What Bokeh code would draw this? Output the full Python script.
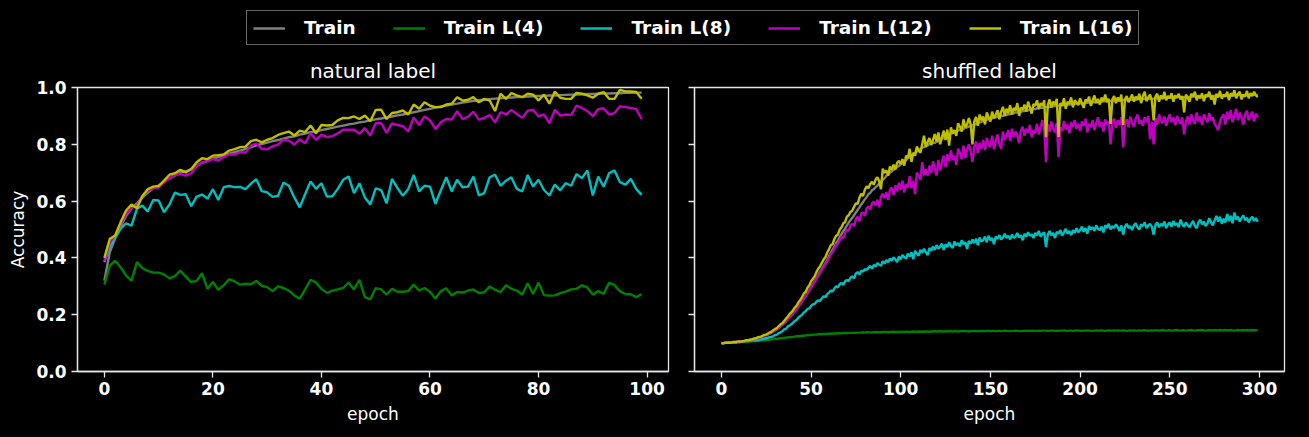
from bokeh.plotting import figure
from bokeh.models import Range1d, FixedTicker, Legend, LegendItem, CustomJSTickFormatter, PrintfTickFormatter
from bokeh.layouts import column, row
from bokeh.embed import file_html
from bokeh.resources import INLINE

FONT = "DejaVu Sans"
FG = "#e6e6e6"

series_names = ["Train", "Train L(4)", "Train L(8)", "Train L(12)", "Train L(16)"]
series_colors = ["#808080", "#008000", "#00bfbf", "#bf00bf", "#bfbf00"]

panel_titles = ["natural label", "shuffled label"]
y_label = "Accuracy"
x_label = "epoch"
y_ticks = [0.0, 0.2, 0.4, 0.6, 0.8, 1.0]
nat_x_ticks = [0, 20, 40, 60, 80, 100]
shuf_x_ticks = [0, 50, 100, 150, 200, 250, 300]

nat_epochs = list(range(100))
shuf_epochs = list(range(300))

# ---------------- natural label (100 epochs) ----------------
nat_train = [
    0.320, 0.420, 0.470, 0.510, 0.548, 0.575, 0.592, 0.612, 0.630, 0.645,
    0.655, 0.667, 0.680, 0.690, 0.700, 0.705, 0.712, 0.725, 0.735, 0.742,
    0.750, 0.755, 0.760, 0.767, 0.772, 0.778, 0.784, 0.790, 0.796, 0.801,
    0.806, 0.811, 0.815, 0.820, 0.825, 0.828, 0.834, 0.838, 0.843, 0.846,
    0.850, 0.854, 0.858, 0.862, 0.866, 0.870, 0.873, 0.877, 0.880, 0.884,
    0.888, 0.891, 0.895, 0.898, 0.902, 0.905, 0.909, 0.913, 0.917, 0.921,
    0.925, 0.929, 0.933, 0.936, 0.940, 0.943, 0.947, 0.950, 0.953, 0.955,
    0.957, 0.959, 0.961, 0.962, 0.964, 0.965, 0.966, 0.967, 0.968, 0.969,
    0.970, 0.971, 0.972, 0.972, 0.973, 0.974, 0.975, 0.975, 0.976, 0.977,
    0.977, 0.978, 0.979, 0.979, 0.980, 0.980, 0.981, 0.981, 0.982, 0.982,
]
nat_l4 = [
    0.306, 0.373, 0.390, 0.367, 0.338, 0.320, 0.385, 0.364, 0.354, 0.348,
    0.348, 0.342, 0.328, 0.336, 0.355, 0.334, 0.315, 0.319, 0.346, 0.291,
    0.315, 0.288, 0.304, 0.325, 0.317, 0.306, 0.309, 0.307, 0.319, 0.302,
    0.297, 0.283, 0.300, 0.294, 0.285, 0.268, 0.256, 0.289, 0.323, 0.313,
    0.291, 0.277, 0.285, 0.289, 0.294, 0.313, 0.289, 0.323, 0.262, 0.254,
    0.293, 0.289, 0.271, 0.291, 0.281, 0.281, 0.283, 0.306, 0.285, 0.294,
    0.281, 0.257, 0.283, 0.293, 0.268, 0.280, 0.278, 0.285, 0.289, 0.276,
    0.279, 0.299, 0.288, 0.279, 0.304, 0.291, 0.285, 0.270, 0.311, 0.273,
    0.313, 0.269, 0.267, 0.268, 0.276, 0.281, 0.289, 0.291, 0.304, 0.296,
    0.271, 0.283, 0.273, 0.313, 0.304, 0.283, 0.273, 0.272, 0.262, 0.272,
]
nat_l8 = [
    0.385, 0.440, 0.470, 0.503, 0.522, 0.514, 0.573, 0.584, 0.563, 0.604,
    0.602, 0.561, 0.588, 0.630, 0.622, 0.624, 0.582, 0.616, 0.623, 0.609,
    0.642, 0.604, 0.649, 0.653, 0.649, 0.650, 0.642, 0.661, 0.677, 0.635,
    0.631, 0.615, 0.619, 0.665, 0.654, 0.613, 0.578, 0.625, 0.669, 0.643,
    0.663, 0.616, 0.617, 0.643, 0.675, 0.687, 0.628, 0.663, 0.613, 0.588,
    0.645, 0.639, 0.592, 0.678, 0.646, 0.619, 0.643, 0.692, 0.634, 0.654,
    0.651, 0.590, 0.638, 0.684, 0.634, 0.675, 0.649, 0.651, 0.686, 0.620,
    0.628, 0.684, 0.693, 0.654, 0.672, 0.684, 0.643, 0.634, 0.692, 0.651,
    0.675, 0.639, 0.620, 0.658, 0.638, 0.663, 0.654, 0.695, 0.681, 0.708,
    0.620, 0.686, 0.651, 0.698, 0.708, 0.667, 0.658, 0.678, 0.643, 0.622,
]
nat_l12 = [
    0.390, 0.455, 0.480, 0.520, 0.555, 0.577, 0.583, 0.618, 0.636, 0.646,
    0.648, 0.666, 0.681, 0.692, 0.696, 0.690, 0.698, 0.723, 0.737, 0.740,
    0.748, 0.743, 0.755, 0.764, 0.764, 0.772, 0.771, 0.795, 0.802, 0.784,
    0.782, 0.793, 0.799, 0.816, 0.813, 0.799, 0.818, 0.804, 0.839, 0.816,
    0.834, 0.825, 0.829, 0.839, 0.851, 0.851, 0.851, 0.837, 0.857, 0.831,
    0.874, 0.875, 0.840, 0.874, 0.868, 0.864, 0.845, 0.895, 0.868, 0.898,
    0.884, 0.854, 0.878, 0.889, 0.887, 0.917, 0.889, 0.897, 0.915, 0.887,
    0.893, 0.903, 0.878, 0.913, 0.905, 0.921, 0.907, 0.893, 0.918, 0.922,
    0.898, 0.905, 0.874, 0.921, 0.901, 0.905, 0.903, 0.936, 0.928, 0.917,
    0.899, 0.924, 0.927, 0.905, 0.910, 0.934, 0.931, 0.928, 0.924, 0.889,
]
nat_l16 = [
    0.400, 0.467, 0.479, 0.526, 0.567, 0.588, 0.575, 0.618, 0.642, 0.651,
    0.653, 0.672, 0.693, 0.698, 0.710, 0.701, 0.713, 0.737, 0.751, 0.748,
    0.760, 0.762, 0.764, 0.778, 0.783, 0.790, 0.792, 0.811, 0.816, 0.807,
    0.816, 0.822, 0.833, 0.839, 0.845, 0.831, 0.848, 0.843, 0.866, 0.839,
    0.868, 0.866, 0.868, 0.884, 0.893, 0.892, 0.898, 0.889, 0.901, 0.881,
    0.921, 0.922, 0.889, 0.910, 0.913, 0.919, 0.905, 0.940, 0.925, 0.948,
    0.936, 0.931, 0.931, 0.940, 0.943, 0.966, 0.954, 0.957, 0.966, 0.948,
    0.960, 0.954, 0.917, 0.978, 0.960, 0.980, 0.972, 0.966, 0.978, 0.975,
    0.954, 0.975, 0.943, 0.986, 0.964, 0.960, 0.960, 0.981, 0.978, 0.972,
    0.964, 0.978, 0.984, 0.960, 0.960, 0.992, 0.986, 0.986, 0.984, 0.960,
]

# ---------------- shuffled label (300 epochs) ----------------
shuf_train = [
    0.100, 0.100, 0.101, 0.101, 0.102, 0.102, 0.103, 0.104, 0.104, 0.105, 0.106, 0.106, 0.107, 0.108, 0.109, 0.110, 0.111, 0.112, 0.114, 0.115,
    0.117, 0.119, 0.121, 0.123, 0.126, 0.128, 0.131, 0.134, 0.137, 0.141, 0.145, 0.149, 0.154, 0.159, 0.164, 0.170, 0.176, 0.183, 0.190, 0.197,
    0.205, 0.213, 0.221, 0.229, 0.238, 0.247, 0.257, 0.266, 0.276, 0.286, 0.297, 0.308, 0.318, 0.329, 0.340, 0.351, 0.360, 0.370, 0.381, 0.392,
    0.406, 0.418, 0.428, 0.440, 0.452, 0.461, 0.473, 0.484, 0.495, 0.503, 0.514, 0.524, 0.533, 0.541, 0.550, 0.560, 0.569, 0.578, 0.588, 0.597,
    0.606, 0.614, 0.624, 0.629, 0.638, 0.642, 0.649, 0.654, 0.662, 0.667, 0.675, 0.680, 0.689, 0.693, 0.700, 0.704, 0.711, 0.713, 0.721, 0.723,
    0.730, 0.733, 0.740, 0.744, 0.751, 0.754, 0.761, 0.764, 0.771, 0.774, 0.780, 0.783, 0.789, 0.790, 0.795, 0.796, 0.801, 0.801, 0.805, 0.805,
    0.809, 0.811, 0.816, 0.819, 0.825, 0.827, 0.832, 0.833, 0.839, 0.839, 0.844, 0.845, 0.849, 0.850, 0.854, 0.854, 0.859, 0.859, 0.863, 0.863,
    0.867, 0.868, 0.872, 0.873, 0.877, 0.878, 0.883, 0.883, 0.888, 0.888, 0.892, 0.891, 0.895, 0.894, 0.898, 0.897, 0.901, 0.900, 0.904, 0.903,
    0.906, 0.906, 0.909, 0.909, 0.912, 0.912, 0.915, 0.914, 0.918, 0.917, 0.920, 0.919, 0.922, 0.921, 0.924, 0.924, 0.927, 0.926, 0.929, 0.928,
    0.930, 0.931, 0.931, 0.932, 0.933, 0.934, 0.935, 0.935, 0.936, 0.937, 0.938, 0.938, 0.939, 0.940, 0.940, 0.941, 0.942, 0.942, 0.943, 0.943,
    0.944, 0.944, 0.945, 0.946, 0.946, 0.947, 0.947, 0.948, 0.948, 0.949, 0.949, 0.950, 0.950, 0.951, 0.951, 0.952, 0.952, 0.953, 0.953, 0.954,
    0.954, 0.954, 0.955, 0.955, 0.956, 0.956, 0.956, 0.957, 0.957, 0.957, 0.958, 0.958, 0.958, 0.959, 0.959, 0.959, 0.960, 0.960, 0.960, 0.961,
    0.961, 0.961, 0.962, 0.962, 0.962, 0.963, 0.963, 0.963, 0.964, 0.964, 0.964, 0.965, 0.965, 0.965, 0.965, 0.966, 0.966, 0.966, 0.966, 0.967,
    0.967, 0.967, 0.967, 0.968, 0.968, 0.968, 0.968, 0.968, 0.969, 0.969, 0.969, 0.969, 0.970, 0.970, 0.970, 0.970, 0.970, 0.971, 0.971, 0.971,
    0.971, 0.971, 0.971, 0.972, 0.972, 0.972, 0.972, 0.972, 0.973, 0.973, 0.973, 0.973, 0.973, 0.973, 0.974, 0.974, 0.974, 0.974, 0.974, 0.974,
]
shuf_l4 = [
    0.100, 0.100, 0.100, 0.101, 0.101, 0.101, 0.102, 0.102, 0.102, 0.103, 0.103, 0.104, 0.104, 0.104, 0.105, 0.105, 0.106, 0.106, 0.107, 0.107,
    0.108, 0.108, 0.109, 0.110, 0.110, 0.111, 0.112, 0.112, 0.113, 0.114, 0.115, 0.115, 0.116, 0.117, 0.118, 0.118, 0.119, 0.120, 0.121, 0.121,
    0.122, 0.123, 0.124, 0.124, 0.125, 0.126, 0.126, 0.127, 0.128, 0.128, 0.129, 0.129, 0.130, 0.130, 0.131, 0.131, 0.131, 0.132, 0.132, 0.133,
    0.133, 0.133, 0.134, 0.134, 0.134, 0.135, 0.134, 0.135, 0.135, 0.136, 0.135, 0.136, 0.136, 0.136, 0.137, 0.136, 0.137, 0.137, 0.137, 0.138,
    0.137, 0.138, 0.138, 0.137, 0.138, 0.138, 0.139, 0.138, 0.138, 0.139, 0.138, 0.139, 0.139, 0.138, 0.139, 0.139, 0.140, 0.139, 0.139, 0.140,
    0.139, 0.140, 0.139, 0.140, 0.140, 0.139, 0.140, 0.141, 0.140, 0.140, 0.141, 0.140, 0.141, 0.140, 0.141, 0.141, 0.140, 0.141, 0.141, 0.142,
    0.141, 0.141, 0.142, 0.141, 0.141, 0.142, 0.141, 0.142, 0.142, 0.141, 0.142, 0.142, 0.141, 0.142, 0.142, 0.143, 0.142, 0.142, 0.141, 0.142,
    0.142, 0.143, 0.142, 0.142, 0.143, 0.142, 0.143, 0.142, 0.143, 0.143, 0.142, 0.143, 0.143, 0.142, 0.143, 0.143, 0.142, 0.143, 0.144, 0.143,
    0.143, 0.142, 0.143, 0.143, 0.144, 0.143, 0.143, 0.142, 0.143, 0.144, 0.143, 0.143, 0.144, 0.143, 0.144, 0.143, 0.143, 0.144, 0.143, 0.144,
    0.144, 0.143, 0.144, 0.143, 0.144, 0.144, 0.143, 0.144, 0.143, 0.144, 0.144, 0.145, 0.144, 0.143, 0.144, 0.144, 0.143, 0.144, 0.145, 0.144,
    0.144, 0.143, 0.144, 0.144, 0.145, 0.144, 0.144, 0.143, 0.144, 0.145, 0.144, 0.144, 0.145, 0.144, 0.143, 0.144, 0.145, 0.144, 0.144, 0.145,
    0.144, 0.145, 0.144, 0.144, 0.145, 0.144, 0.143, 0.144, 0.145, 0.144, 0.145, 0.144, 0.144, 0.145, 0.144, 0.145, 0.145, 0.144, 0.145, 0.144,
    0.145, 0.144, 0.145, 0.145, 0.144, 0.145, 0.146, 0.145, 0.144, 0.145, 0.145, 0.144, 0.145, 0.145, 0.146, 0.145, 0.144, 0.145, 0.145, 0.144,
    0.145, 0.145, 0.146, 0.145, 0.144, 0.145, 0.145, 0.146, 0.145, 0.145, 0.144, 0.145, 0.146, 0.145, 0.145, 0.146, 0.145, 0.145, 0.146, 0.145,
    0.145, 0.146, 0.145, 0.145, 0.146, 0.145, 0.144, 0.145, 0.146, 0.145, 0.145, 0.146, 0.145, 0.146, 0.145, 0.145, 0.146, 0.145, 0.145, 0.146,
]
shuf_l8 = [
    0.100, 0.100, 0.101, 0.101, 0.101, 0.102, 0.102, 0.103, 0.103, 0.104, 0.104, 0.105, 0.105, 0.106, 0.107, 0.107, 0.108, 0.109, 0.110, 0.110,
    0.111, 0.112, 0.113, 0.115, 0.116, 0.117, 0.119, 0.121, 0.122, 0.125, 0.128, 0.130, 0.135, 0.138, 0.142, 0.148, 0.150, 0.158, 0.162, 0.166,
    0.172, 0.178, 0.182, 0.190, 0.195, 0.200, 0.208, 0.212, 0.220, 0.222, 0.230, 0.236, 0.238, 0.246, 0.250, 0.248, 0.258, 0.265, 0.262, 0.272,
    0.278, 0.285, 0.282, 0.292, 0.300, 0.296, 0.308, 0.312, 0.305, 0.318, 0.322, 0.318, 0.330, 0.335, 0.328, 0.345, 0.350, 0.342, 0.355, 0.352,
    0.360, 0.358, 0.365, 0.372, 0.362, 0.375, 0.370, 0.382, 0.376, 0.372, 0.388, 0.380, 0.392, 0.385, 0.398, 0.390, 0.402, 0.395, 0.385, 0.405,
    0.395, 0.410, 0.402, 0.398, 0.415, 0.405, 0.420, 0.395, 0.425, 0.415, 0.408, 0.428, 0.418, 0.432, 0.420, 0.410, 0.435, 0.425, 0.440, 0.428,
    0.445, 0.432, 0.440, 0.450, 0.428, 0.448, 0.438, 0.455, 0.442, 0.435, 0.458, 0.445, 0.452, 0.440, 0.462, 0.448, 0.455, 0.432, 0.460, 0.450,
    0.465, 0.452, 0.468, 0.445, 0.472, 0.458, 0.462, 0.475, 0.455, 0.478, 0.462, 0.470, 0.448, 0.475, 0.468, 0.480, 0.465, 0.472, 0.485, 0.470,
    0.478, 0.465, 0.482, 0.470, 0.475, 0.488, 0.472, 0.480, 0.462, 0.485, 0.475, 0.490, 0.478, 0.483, 0.470, 0.488, 0.480, 0.495, 0.475, 0.485,
    0.490, 0.438, 0.482, 0.495, 0.480, 0.488, 0.470, 0.492, 0.485, 0.498, 0.478, 0.490, 0.502, 0.485, 0.495, 0.480, 0.498, 0.488, 0.505, 0.490,
    0.498, 0.510, 0.492, 0.505, 0.485, 0.512, 0.500, 0.508, 0.495, 0.515, 0.502, 0.498, 0.510, 0.490, 0.515, 0.505, 0.520, 0.500, 0.512, 0.505,
    0.518, 0.508, 0.495, 0.515, 0.482, 0.510, 0.520, 0.505, 0.512, 0.498, 0.515, 0.522, 0.508, 0.500, 0.518, 0.512, 0.525, 0.505, 0.515, 0.520,
    0.510, 0.482, 0.515, 0.525, 0.508, 0.520, 0.512, 0.528, 0.505, 0.518, 0.525, 0.510, 0.530, 0.515, 0.522, 0.508, 0.535, 0.518, 0.510, 0.525,
    0.515, 0.508, 0.520, 0.530, 0.512, 0.505, 0.525, 0.535, 0.518, 0.528, 0.512, 0.522, 0.540, 0.525, 0.515, 0.532, 0.548, 0.528, 0.545, 0.520,
    0.538, 0.525, 0.555, 0.530, 0.548, 0.522, 0.560, 0.535, 0.545, 0.528, 0.540, 0.550, 0.532, 0.542, 0.525, 0.538, 0.545, 0.530, 0.540, 0.527,
]
shuf_l12 = [
    0.100, 0.100, 0.101, 0.102, 0.101, 0.102, 0.103, 0.103, 0.104, 0.105, 0.105, 0.106, 0.107, 0.108, 0.109, 0.110, 0.111, 0.113, 0.114, 0.116,
    0.117, 0.119, 0.121, 0.123, 0.126, 0.128, 0.131, 0.134, 0.138, 0.141, 0.146, 0.150, 0.155, 0.160, 0.165, 0.171, 0.178, 0.184, 0.190, 0.198,
    0.206, 0.213, 0.222, 0.230, 0.238, 0.248, 0.256, 0.266, 0.276, 0.285, 0.296, 0.305, 0.316, 0.326, 0.338, 0.346, 0.358, 0.366, 0.378, 0.388,
    0.398, 0.412, 0.420, 0.432, 0.445, 0.450, 0.462, 0.475, 0.470, 0.488, 0.500, 0.496, 0.515, 0.520, 0.512, 0.535, 0.545, 0.530, 0.556, 0.560,
    0.548, 0.575, 0.582, 0.570, 0.592, 0.598, 0.585, 0.605, 0.578, 0.615, 0.626, 0.610, 0.632, 0.605, 0.640, 0.648, 0.622, 0.655, 0.635, 0.665,
    0.640, 0.672, 0.630, 0.660, 0.648, 0.688, 0.645, 0.672, 0.625, 0.700, 0.690, 0.675, 0.737, 0.690, 0.712, 0.690, 0.725, 0.700, 0.740, 0.715,
    0.690, 0.745, 0.708, 0.738, 0.760, 0.720, 0.765, 0.740, 0.778, 0.745, 0.760, 0.728, 0.785, 0.770, 0.748, 0.795, 0.752, 0.780, 0.800, 0.775,
    0.738, 0.790, 0.810, 0.770, 0.805, 0.785, 0.815, 0.780, 0.822, 0.800, 0.790, 0.830, 0.782, 0.812, 0.835, 0.800, 0.785, 0.845, 0.815, 0.830,
    0.850, 0.812, 0.855, 0.825, 0.845, 0.832, 0.805, 0.848, 0.862, 0.830, 0.855, 0.842, 0.868, 0.825, 0.850, 0.840, 0.872, 0.835, 0.862, 0.885,
    0.850, 0.738, 0.870, 0.845, 0.880, 0.858, 0.842, 0.875, 0.755, 0.860, 0.848, 0.882, 0.852, 0.870, 0.840, 0.878, 0.862, 0.885, 0.855, 0.872,
    0.848, 0.880, 0.865, 0.890, 0.842, 0.872, 0.860, 0.885, 0.850, 0.875, 0.895, 0.862, 0.878, 0.845, 0.888, 0.870, 0.880, 0.800, 0.875, 0.890,
    0.858, 0.885, 0.870, 0.895, 0.790, 0.872, 0.888, 0.860, 0.898, 0.875, 0.862, 0.890, 0.905, 0.872, 0.885, 0.865, 0.895, 0.878, 0.900, 0.818,
    0.880, 0.800, 0.892, 0.870, 0.905, 0.885, 0.875, 0.898, 0.865, 0.890, 0.905, 0.878, 0.895, 0.868, 0.900, 0.885, 0.872, 0.895, 0.835, 0.880,
    0.898, 0.870, 0.905, 0.885, 0.872, 0.912, 0.880, 0.898, 0.868, 0.905, 0.890, 0.878, 0.910, 0.885, 0.895, 0.872, 0.862, 0.850, 0.880, 0.895,
    0.905, 0.870, 0.915, 0.888, 0.920, 0.878, 0.902, 0.925, 0.885, 0.912, 0.895, 0.870, 0.905, 0.918, 0.885, 0.900, 0.915, 0.880, 0.908, 0.895,
]
shuf_l16 = [
    0.100, 0.099, 0.101, 0.101, 0.102, 0.101, 0.103, 0.104, 0.103, 0.105, 0.106, 0.105, 0.107, 0.108, 0.110, 0.110, 0.112, 0.113, 0.116, 0.116,
    0.119, 0.122, 0.122, 0.126, 0.129, 0.130, 0.134, 0.138, 0.140, 0.146, 0.150, 0.153, 0.160, 0.166, 0.170, 0.178, 0.186, 0.192, 0.202, 0.208,
    0.216, 0.226, 0.232, 0.244, 0.252, 0.262, 0.275, 0.280, 0.295, 0.303, 0.318, 0.326, 0.335, 0.350, 0.362, 0.370, 0.382, 0.394, 0.402, 0.418,
    0.430, 0.445, 0.448, 0.466, 0.478, 0.482, 0.500, 0.508, 0.522, 0.526, 0.545, 0.550, 0.562, 0.566, 0.580, 0.592, 0.590, 0.612, 0.626, 0.618,
    0.640, 0.652, 0.645, 0.660, 0.668, 0.658, 0.676, 0.684, 0.670, 0.642, 0.714, 0.700, 0.708, 0.690, 0.722, 0.710, 0.728, 0.712, 0.735, 0.742,
    0.730, 0.748, 0.725, 0.760, 0.752, 0.784, 0.738, 0.770, 0.760, 0.792, 0.778, 0.770, 0.800, 0.830, 0.790, 0.808, 0.822, 0.798, 0.815, 0.836,
    0.810, 0.842, 0.800, 0.826, 0.848, 0.815, 0.852, 0.795, 0.860, 0.838, 0.850, 0.830, 0.874, 0.862, 0.845, 0.888, 0.860, 0.870, 0.892, 0.870,
    0.800, 0.880, 0.896, 0.865, 0.905, 0.884, 0.898, 0.870, 0.912, 0.895, 0.880, 0.915, 0.892, 0.905, 0.920, 0.888, 0.915, 0.932, 0.900, 0.925,
    0.910, 0.938, 0.905, 0.928, 0.918, 0.945, 0.900, 0.930, 0.922, 0.940, 0.915, 0.950, 0.930, 0.908, 0.942, 0.935, 0.955, 0.925, 0.945, 0.935,
    0.955, 0.825, 0.938, 0.958, 0.930, 0.950, 0.940, 0.960, 0.826, 0.945, 0.935, 0.962, 0.925, 0.950, 0.942, 0.965, 0.930, 0.955, 0.948, 0.938,
    0.962, 0.945, 0.928, 0.958, 0.950, 0.968, 0.935, 0.955, 0.972, 0.945, 0.960, 0.940, 0.965, 0.952, 0.975, 0.948, 0.960, 0.872, 0.958, 0.970,
    0.945, 0.965, 0.952, 0.975, 0.868, 0.958, 0.970, 0.948, 0.962, 0.975, 0.950, 0.968, 0.958, 0.978, 0.945, 0.970, 0.985, 0.952, 0.965, 0.975,
    0.955, 0.884, 0.968, 0.978, 0.950, 0.972, 0.960, 0.985, 0.955, 0.970, 0.962, 0.980, 0.950, 0.972, 0.965, 0.978, 0.958, 0.970, 0.912, 0.975,
    0.965, 0.950, 0.978, 0.968, 0.985, 0.955, 0.972, 0.962, 0.980, 0.952, 0.975, 0.968, 0.985, 0.958, 0.972, 0.940, 0.978, 0.965, 0.988, 0.960,
    0.975, 0.968, 0.985, 0.955, 0.980, 0.970, 0.990, 0.962, 0.978, 0.985, 0.958, 0.975, 0.968, 0.988, 0.962, 0.980, 0.970, 0.985, 0.972, 0.966,
]

nat_series = [nat_train, nat_l4, nat_l8, nat_l12, nat_l16]
shuf_series = [shuf_train, shuf_l4, shuf_l8, shuf_l12, shuf_l16]

LW = 2.4
TOP_H = 52
PLOT_H = 437 - TOP_H


def make_panel(title, epochs, series, xticks, n, width, bl, br, show_ylabels):
    p = figure(width=width, height=PLOT_H, output_backend="svg", toolbar_location=None,
               x_range=Range1d(-0.05 * (n - 1), (n - 1) * 1.05),
               y_range=Range1d(0, 1),
               min_border_left=bl, min_border_right=br, min_border_top=35, min_border_bottom=66)
    p.background_fill_color = "black"
    p.border_fill_color = "black"
    p.outline_line_color = FG
    p.outline_line_width = 1.3
    p.grid.visible = False
    p.title.text = title
    p.title.text_color = "white"
    p.title.text_font = FONT
    p.title.text_font_size = "20px"
    p.title.text_font_style = "normal"
    p.title.align = "center"
    p.title.standoff = 9
    for s, c in zip(series, series_colors):
        p.line(epochs, s, line_color=c, line_width=LW)
    for ax in (p.xaxis[0], p.yaxis[0]):
        ax.axis_line_color = FG
        ax.axis_line_width = 1.3
        ax.major_tick_line_color = FG
        ax.major_tick_line_width = 1.3
        ax.major_tick_in = 0
        ax.major_tick_out = 6
        ax.minor_tick_line_color = None
        ax.major_label_text_color = "white"
        ax.major_label_text_font = FONT
        ax.major_label_text_font_size = "17px"
        ax.major_label_text_font_style = "bold"
        ax.axis_label_text_color = "white"
        ax.axis_label_text_font = FONT
        ax.axis_label_text_font_size = "17px"
        ax.axis_label_text_font_style = "normal"
    p.xaxis.ticker = FixedTicker(ticks=xticks)
    p.xaxis.major_label_standoff = 4
    p.xaxis.axis_label = x_label
    p.xaxis.axis_label_standoff = 6
    p.yaxis.ticker = FixedTicker(ticks=y_ticks)
    if show_ylabels:
        p.yaxis.formatter = PrintfTickFormatter(format="%.1f")
        p.yaxis.axis_label = y_label
        p.yaxis.major_label_standoff = 5
        p.yaxis.axis_label_standoff = 5
    else:
        p.yaxis.formatter = CustomJSTickFormatter(code="return '';")
        p.yaxis.major_label_standoff = 0
    return p


p1 = make_panel(panel_titles[0], nat_epochs, nat_series, nat_x_ticks, 100, 680, 77, 12, True)
p2 = make_panel(panel_titles[1], shuf_epochs, shuf_series, shuf_x_ticks, 300, 629, 14, 25, False)

# legend strip
leg = figure(width=1309, height=TOP_H, output_backend="svg", toolbar_location=None,
             x_range=Range1d(0, 1), y_range=Range1d(0, 1),
             x_axis_type=None, y_axis_type=None,
             min_border_left=246, min_border_right=0, min_border_top=10, min_border_bottom=0)
leg.background_fill_color = "black"
leg.border_fill_color = "black"
leg.outline_line_color = None
leg.grid.visible = False
items = []
for name, c in zip(series_names, series_colors):
    r = leg.line([5, 6], [5, 6], line_color=c, line_width=LW)
    items.append(LegendItem(label=name, renderers=[r]))
legend = Legend(items=items, orientation="horizontal", location="top_left",
                glyph_width=32, glyph_height=20, label_height=20, label_standoff=19,
                spacing=37, padding=6, margin=0,
                label_text_color="white", label_text_font=FONT,
                label_text_font_size="18.5px", label_text_font_style="bold",
                border_line_color="#cccccc", border_line_width=1.3,
                background_fill_color="black", background_fill_alpha=1.0)
leg.add_layout(legend, "center")

layout = column(leg, row(p1, p2))

html = file_html(layout, INLINE)
html = html.replace("</head>", "<style>html,body{background:#000;margin:0;padding:0;}</style></head>", 1)
open("out.html", "w").write(html)
